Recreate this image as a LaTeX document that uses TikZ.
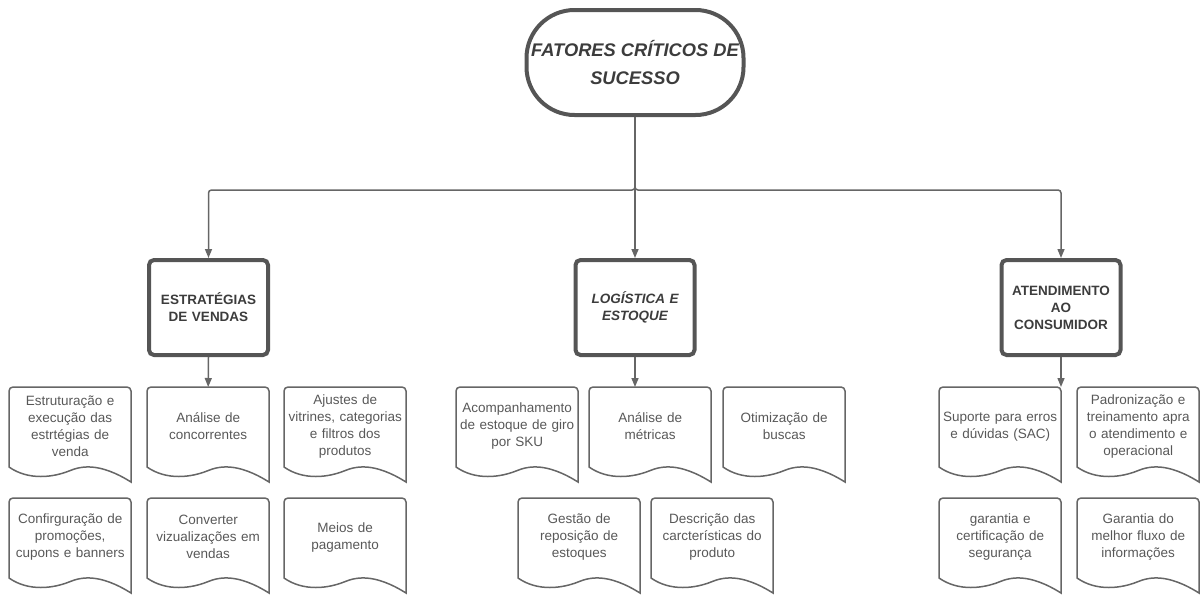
\documentclass[tikz,border=0pt]{standalone}
\usepackage{fontspec}
\setmainfont{Liberation Sans}
\usetikzlibrary{arrows.meta}
\definecolor{linegray}{RGB}{102,102,102}
\definecolor{boxgray}{RGB}{85,85,85}
\definecolor{textgray}{RGB}{88,88,88}
\definecolor{headgray}{RGB}{60,60,60}

\begin{document}
\begin{tikzpicture}[x=1pt,y=-1pt,
  titlebox/.style={draw=boxgray, line width=4pt, rounded corners=48pt, minimum width=217pt, minimum height=105pt, align=center, text=headgray, font=\fontsize{18.3}{28}\selectfont\bfseries\itshape},
  hdr/.style={draw=boxgray, line width=4pt, rounded corners=5pt, minimum width=119pt, minimum height=95pt, text width=110pt, align=center, text=headgray, font=\fontsize{13.5}{17}\selectfont\bfseries},
  doctext/.style={anchor=north west, minimum width=122pt, minimum height=78pt, text width=120pt, inner sep=1pt, align=center, text=textgray, font=\fontsize{13.5}{17}\selectfont},
  docline/.style={draw=linegray, line width=1.5pt},
  arrow/.style={draw=linegray, line width=1.5pt, -{Triangle[length=9pt,width=7pt]}}]
\useasboundingbox (0,0) rectangle (1201,597);

% top
\node[titlebox] (fcs) at (635,62.5) {FATORES CRÍTICOS DE\\SUCESSO};

% headers
\node[hdr] (hv) at (208.5,307.5) {ESTRATÉGIAS\\DE VENDAS};
\node[hdr, font=\fontsize{13.5}{17}\selectfont\bfseries\itshape] (hl) at (635,307.5) {LOGÍSTICA E\\ESTOQUE};
\node[hdr] (ha) at (1061,307.5) {ATENDIMENTO\\AO\\CONSUMIDOR};

% document shapes
\foreach \n/\x/\y/\t in {
  v1/9/387/{Estruturação e\\execução das\\estrtégias de\\venda},
  v2/147/387/{Análise de\\concorrentes},
  v3/284/387/{Ajustes de\\vitrines, categorias\\e filtros dos\\produtos},
  v4/9/498/{Confirguração de\\promoções,\\cupons e banners},
  v5/147/498/{Converter\\vizualizações em\\vendas},
  v6/284/498/{Meios de\\pagamento},
  l1/456/387/{Acompanhamento\\de estoque de giro\\por SKU},
  l2/589/387/{Análise de\\métricas},
  l3/723/387/{Otimização de\\buscas},
  l4/518/498/{Gestão de\\reposição de\\estoques},
  l5/651/498/{Descrição das\\carcterísticas do\\produto},
  a1/939/387/{Suporte para erros\\e dúvidas (SAC)},
  a2/1077/387/{Padronização e\\treinamento apra\\o atendimento e\\operacional},
  a3/939/498/{garantia e\\certificação de\\segurança},
  a4/1077/498/{Garantia do\\melhor fluxo de\\informações}}{
  \node[doctext] (\n) at (\x,\y) {\t};
  \draw[docline] (\x,\y+80) [rounded corners=4pt] -- (\x,\y) -- (\x+122,\y) [sharp corners] -- (\x+122,\y+95)
    .. controls (\x+90,\y+75) and (\x+72,\y+79) .. (\x+60,\y+84)
    .. controls (\x+45,\y+90) and (\x+20,\y+94) .. cycle;
}

% connectors
\coordinate (fork) at (635,190);
\draw[arrow, rounded corners=3pt] (fcs.south) -- (fork) -| (hv.north);
\draw[arrow] (fcs.south) -- (hl.north);
\draw[arrow, rounded corners=3pt] (fcs.south) -- (fork) -| (ha.north);

\draw[arrow] (hv.south) -- (v2.north);
\draw[arrow] (hl.south) -- (hl.south |- l2.north);
\draw[arrow] (ha.south) -- (ha.south |- a1.north);
\end{tikzpicture}
\end{document}
